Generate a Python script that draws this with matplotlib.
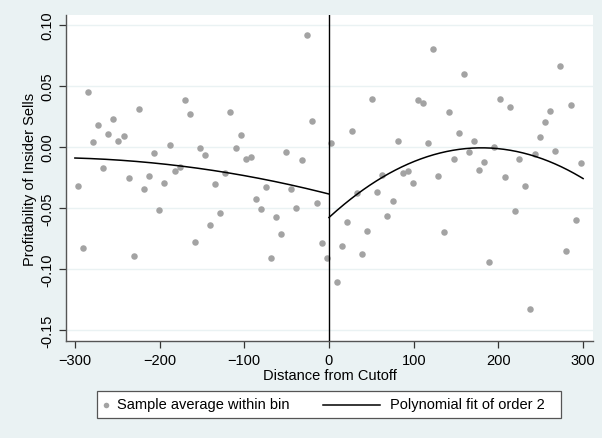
import numpy as np
import matplotlib
matplotlib.use('Agg')
import matplotlib.pyplot as plt
from matplotlib.lines import Line2D
from matplotlib.patches import Rectangle

plt.rcParams['font.family'] = ['Liberation Sans', 'DejaVu Sans']

## bin averages, left of the cutoff
left_x = [-296.3, -290.4, -284.2, -278.6, -272.4, -266.4, -260.5, -255.0, -248.7, -242.4,
          -236.0, -230.6, -224.3, -218.4, -212.5, -206.2, -200.7, -194.5, -188.1, -182.2,
          -176.3, -170.4, -164.1, -158.6, -151.9, -146.4, -140.5, -134.2, -128.3, -122.4,
          -116.5, -110.2, -104.3, -98.0, -92.5, -86.5, -80.6, -74.4, -68.5, -62.2,
          -56.7, -50.4, -44.5, -38.6, -32.3, -26.3, -20.5, -14.5, -8.3, -2.8]
left_y = [-0.032, -0.0828, 0.0453, 0.0038, 0.0183, -0.0175, 0.0107, 0.0232, 0.0047, 0.0085,
          -0.0254, -0.0893, 0.0311, -0.0342, -0.0235, -0.0052, -0.0519, -0.030, 0.0016, -0.0194,
          -0.0166, 0.0383, 0.0268, -0.0781, -0.0011, -0.0068, -0.0637, -0.0303, -0.0544, -0.0216,
          0.0284, -0.0008, 0.0096, -0.0101, -0.0079, -0.0424, -0.0506, -0.033, -0.091, -0.0577,
          -0.0716, -0.0038, -0.0347, -0.050, -0.0104, 0.0915, 0.0208, -0.0456, -0.0784, -0.091]

## right of the cutoff
right_x = [2.8, 9.1, 15.0, 21.3, 27.2, 33.1, 39.0, 45.3, 51.1, 57.0,
           63.0, 68.9, 75.2, 81.1, 87.0, 93.3, 99.2, 104.7, 111.4, 117.2,
           123.2, 129.0, 135.4, 141.3, 147.2, 153.1, 159.0, 165.3, 171.2, 177.5,
           183.4, 189.3, 194.8, 201.5, 207.4, 213.3, 219.2, 224.7, 231.4, 237.3,
           242.8, 249.1, 255.0, 260.9, 267.2, 273.1, 279.4, 285.4, 291.6, 297.5]
right_y = [0.003, -0.1107, -0.0811, -0.0617, 0.0131, -0.038, -0.0874, -0.0686, 0.0393, -0.0369,
           -0.023, -0.0568, -0.0445, 0.0049, -0.021, -0.0194, -0.0293, 0.0385, 0.0361, 0.003,
           0.080, -0.024, -0.0697, 0.0284, -0.0101, 0.0112, 0.0593, -0.0038, 0.0047, -0.0189,
           -0.0123, -0.094, 0.000, 0.0393, -0.0249, 0.0328, -0.0522, -0.0098, -0.032, -0.1328,
           -0.006, 0.0082, 0.020, 0.0295, -0.003, 0.0659, -0.085, 0.0344, -0.0596, -0.0131]

x_ticks = [-300, -200, -100, 0, 100, 200, 300]
y_ticks = [-0.15, -0.10, -0.05, 0.00, 0.05, 0.10]
y_ticklabels = ['-0.15', '-0.10', '-0.05', '0.00', '0.05', '0.10']
legend_labels = ['Sample average within bin', 'Polynomial fit of order 2']

bg = '#eaf2f3'
dot = '#a3a3a3'
W, H = 602.0, 439.0

fig = plt.figure(figsize=(6.02, 4.39), dpi=100, facecolor=bg)
ax = fig.add_axes([66 / W, 97 / H, 527 / W, 326 / H])
ax.set_facecolor('white')

# quadratic fit on each side of the cutoff
pl = np.polyfit(left_x, left_y, 2)
pr = np.polyfit(right_x, right_y, 2)
gl = np.linspace(-300, 0, 200)
gr = np.linspace(0, 300, 200)

ax.scatter(left_x, left_y, s=22, color=dot, zorder=3, linewidths=0)
ax.scatter(right_x, right_y, s=22, color=dot, zorder=3, linewidths=0)
ax.plot(gl, np.polyval(pl, gl), color='black', lw=1.1, zorder=4)
ax.plot(gr, np.polyval(pr, gr), color='black', lw=1.1, zorder=4)
ax.axvline(0, color='black', lw=1.0, zorder=4)

ax.set_xlim(-310.5, 311.7)
ax.set_ylim(-0.159, 0.108)
ax.set_xticks(x_ticks)
ax.set_yticks(y_ticks)
ax.set_yticklabels(y_ticklabels, rotation=90, va='center')
ax.grid(axis='y', color=bg, lw=1.0, zorder=0)
ax.set_axisbelow(True)

for s in ['top', 'right']:
    ax.spines[s].set_visible(False)
for s in ['left', 'bottom']:
    ax.spines[s].set_color('#555555')
    ax.spines[s].set_linewidth(1.0)
ax.tick_params(colors='#333333', labelcolor='black', labelsize=10.5, length=5, width=0.9)

ax.set_xlabel('Distance from Cutoff', fontsize=10.5, labelpad=1)
ax.set_ylabel('Profitability of Insider Sells', fontsize=10.5, labelpad=2)

## legend box drawn by hand so the dot sits close to its label like in Stata
fy = (H - 405.5) / H
fig.add_artist(Rectangle((97 / W, (H - 419) / H), 464 / W, 27 / H, transform=fig.transFigure,
                         facecolor='white', edgecolor='#555555', lw=0.9))
fig.add_artist(Line2D([106 / W], [fy], transform=fig.transFigure, marker='o', ls='none',
                      color=dot, markersize=4, markeredgewidth=0))
fig.add_artist(Line2D([323 / W, 380 / W], [fy, fy], transform=fig.transFigure,
                      color='black', lw=1.1))
fig.text(117 / W, fy, legend_labels[0], fontsize=10.5, va='center', ha='left')
fig.text(390 / W, fy, legend_labels[1], fontsize=10.5, va='center', ha='left')

fig.savefig('out.png', dpi=100, facecolor=bg)
